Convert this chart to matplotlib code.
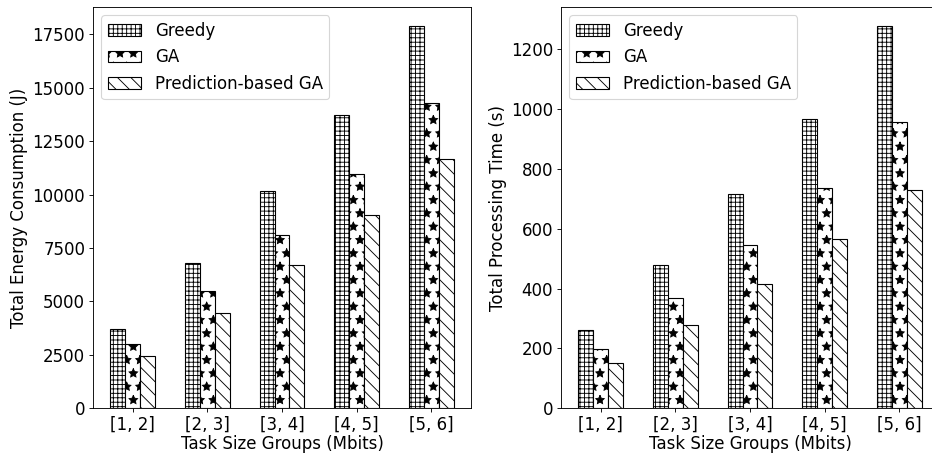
import numpy as np
import matplotlib
matplotlib.use('Agg')
import matplotlib.pyplot as plt

# data
groups = ['[1, 2]', '[2, 3]', '[3, 4]', '[4, 5]', '[5, 6]']
methods = ['Greedy', 'GA', 'Prediction-based GA']
hatches = ['+++', '*', '\\\\']

energy_greedy = [3700, 6800, 10150, 13700, 17880]
energy_ga = [3000, 5470, 8110, 10980, 14290]
energy_pga = [2460, 4460, 6690, 9050, 11680]

time_greedy = [261, 479, 715, 968, 1277]
time_ga = [198, 368, 546, 735, 955]
time_pga = [150, 277, 416, 565, 731]

DPI = 80
plt.rcParams['font.size'] = 15
plt.rcParams['hatch.linewidth'] = 0.8

fig = plt.figure(figsize=(932 / DPI, 455 / DPI), dpi=DPI)
ax1 = fig.add_axes([93 / 932, 1 - 408.3 / 455, 378 / 932, 401.3 / 455])
ax2 = fig.add_axes([561 / 932, 1 - 408.3 / 455, 378 / 932, 401.3 / 455])

x = np.arange(len(groups))
width = 0.2


def draw(ax, series, ylabel):
    for i, (vals, name, h) in enumerate(zip(series, methods, hatches)):
        ax.bar(x + (i - 1) * width, vals, width, label=name, hatch=h,
               facecolor='white', edgecolor='black', linewidth=1)
    ax.set_xticks(x)
    ax.set_xticklabels(groups)
    ax.set_xlabel('Task Size Groups (Mbits)', labelpad=1)
    ax.set_ylabel(ylabel)
    ax.legend(loc='upper left')


draw(ax1, [energy_greedy, energy_ga, energy_pga], 'Total Energy Consumption (J)')
draw(ax2, [time_greedy, time_ga, time_pga], 'Total Processing Time (s)')

fig.savefig('out.png', dpi=DPI)
